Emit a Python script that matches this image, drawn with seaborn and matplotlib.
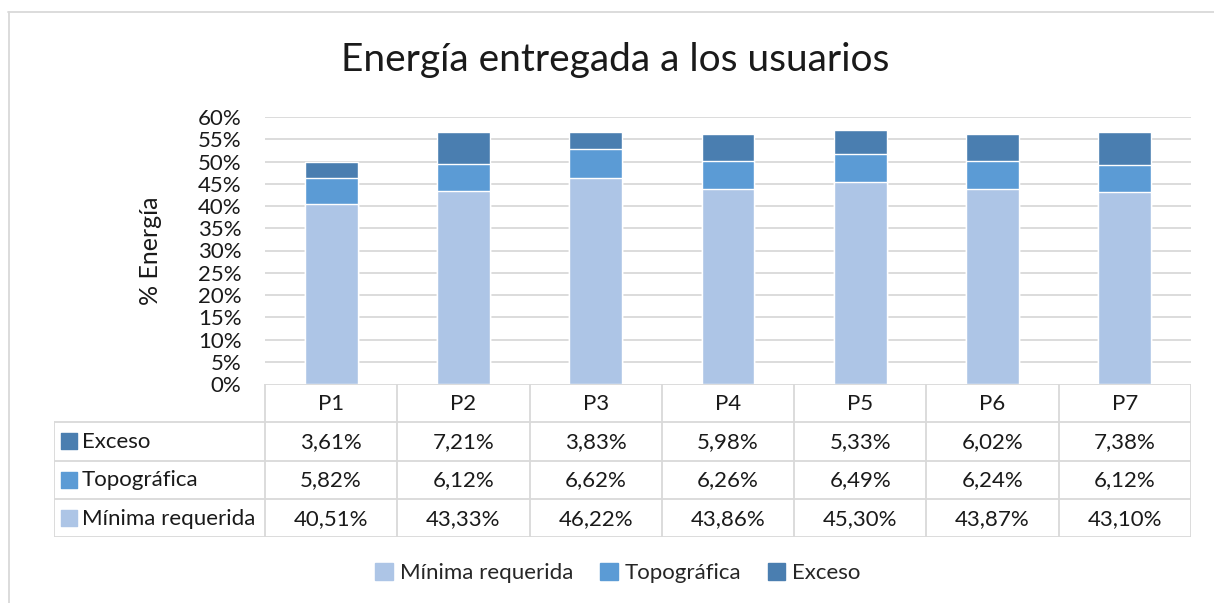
import numpy as np
import pandas as pd
import matplotlib
matplotlib.use("Agg")
import matplotlib.pyplot as plt
from matplotlib.patches import Patch
import seaborn as sns

# Data (percent)
periods = ["P1", "P2", "P3", "P4", "P5", "P6", "P7"]
minima = [40.51, 43.33, 46.22, 43.86, 45.30, 43.87, 43.10]
topografica = [5.82, 6.12, 6.62, 6.26, 6.49, 6.24, 6.12]
exceso = [3.61, 7.21, 3.83, 5.98, 5.33, 6.02, 7.38]
series_names = ["Mínima requerida", "Topográfica", "Exceso"]
series_colors = ["#adc5e6", "#5b9bd5", "#4a7eb0"]
yticks = list(range(0, 61, 5))

df = pd.DataFrame({"periodo": periods, "min": minima, "topo": topografica, "exc": exceso})
df["lvl1"] = df["min"]
df["lvl2"] = df["min"] + df["topo"]
df["lvl3"] = df["lvl2"] + df["exc"]

sns.set_theme(style="white")
plt.rcParams["font.family"] = ["Lato", "DejaVu Sans"]

W, H = 1214, 603
fig = plt.figure(figsize=(W / 100, H / 100), dpi=100)

def px_axes(x0, y0, x1, y1):
    return fig.add_axes([x0 / W, 1 - y1 / H, (x1 - x0) / W, (y1 - y0) / H])

grid_c = "#d9d9d9"
txt_c = "#1a1a1a"
fs = 16

# main plot area
ax = px_axes(265, 117, 1191, 384)
for col, color in zip(["lvl3", "lvl2", "lvl1"], series_colors[::-1]):
    sns.barplot(data=df, x="periodo", y=col, color=color, width=0.4,
                saturation=1, ax=ax, zorder=3)
ax.set_xlim(-0.5, 6.5)
ax.set_ylim(0, 60)
ax.set_yticks(yticks)
ax.set_yticklabels([f"{t}%" for t in yticks], fontsize=fs, color=txt_c)
ax.tick_params(axis="y", length=0, pad=17)
ax.set_xticks([])
ax.set_xlabel("")
ax.set_ylabel("% Energía", fontsize=18, color=txt_c, labelpad=26)
for t in yticks[1:]:
    ax.axhline(t, color=grid_c, lw=1.3, zorder=1)
for s in ax.spines.values():
    s.set_visible(False)

# data table under the plot
tab = px_axes(54, 384, 1191, 537)
label_w = (265 - 54) / ((1191 - 265) / 7)
tab.set_xlim(-0.5 - label_w, 6.5)
tab.set_ylim(4, 0)
tab.axis("off")
xl = -0.5 - label_w
lw = 1.3
# horizontal lines
tab.plot([-0.5, 6.5], [0, 0], color=grid_c, lw=lw)
for r in [1, 2, 3, 4]:
    tab.plot([xl, 6.5], [r, r], color=grid_c, lw=lw)
# vertical lines
tab.plot([xl, xl], [1, 4], color=grid_c, lw=lw)
for c in range(8):
    tab.plot([c - 0.5, c - 0.5], [0, 4], color=grid_c, lw=lw)
for i, p in enumerate(periods):
    tab.text(i, 0.52, p, ha="center", va="center", fontsize=fs, color=txt_c)
rows = [("Exceso", exceso, series_colors[2]),
        ("Topográfica", topografica, series_colors[1]),
        ("Mínima requerida", minima, series_colors[0])]
for r, (name, vals, color) in enumerate(rows, start=1):
    tab.scatter([xl + 0.11], [r + 0.5], marker="s", s=120, color=color)
    tab.text(xl + 0.21, r + 0.52, name, ha="left", va="center", fontsize=fs, color=txt_c)
    for i, v in enumerate(vals):
        tab.text(i, r + 0.52, f"{v:.2f}%".replace(".", ","), ha="center", va="center",
                 fontsize=fs, color=txt_c)

fig.text(615 / W, 1 - 60 / H, "Energía entregada a los usuarios", ha="center", va="center",
         fontsize=28, color=txt_c)

handles = [Patch(color=c, label=n) for n, c in zip(series_names, series_colors)]
fig.legend(handles=handles, loc="center", bbox_to_anchor=(618 / W, 1 - 573 / H), ncol=3,
           frameon=False, fontsize=fs, handlelength=0.8, handleheight=0.8,
           handletextpad=0.3, columnspacing=1.2)

# outer chart border
fig.add_artist(plt.Line2D([8 / W, 1], [1 - 12 / H, 1 - 12 / H], color=grid_c, lw=1.3))
fig.add_artist(plt.Line2D([9 / W, 9 / W], [0, 1 - 12 / H], color=grid_c, lw=1.3))

fig.savefig("out.png", dpi=100)
